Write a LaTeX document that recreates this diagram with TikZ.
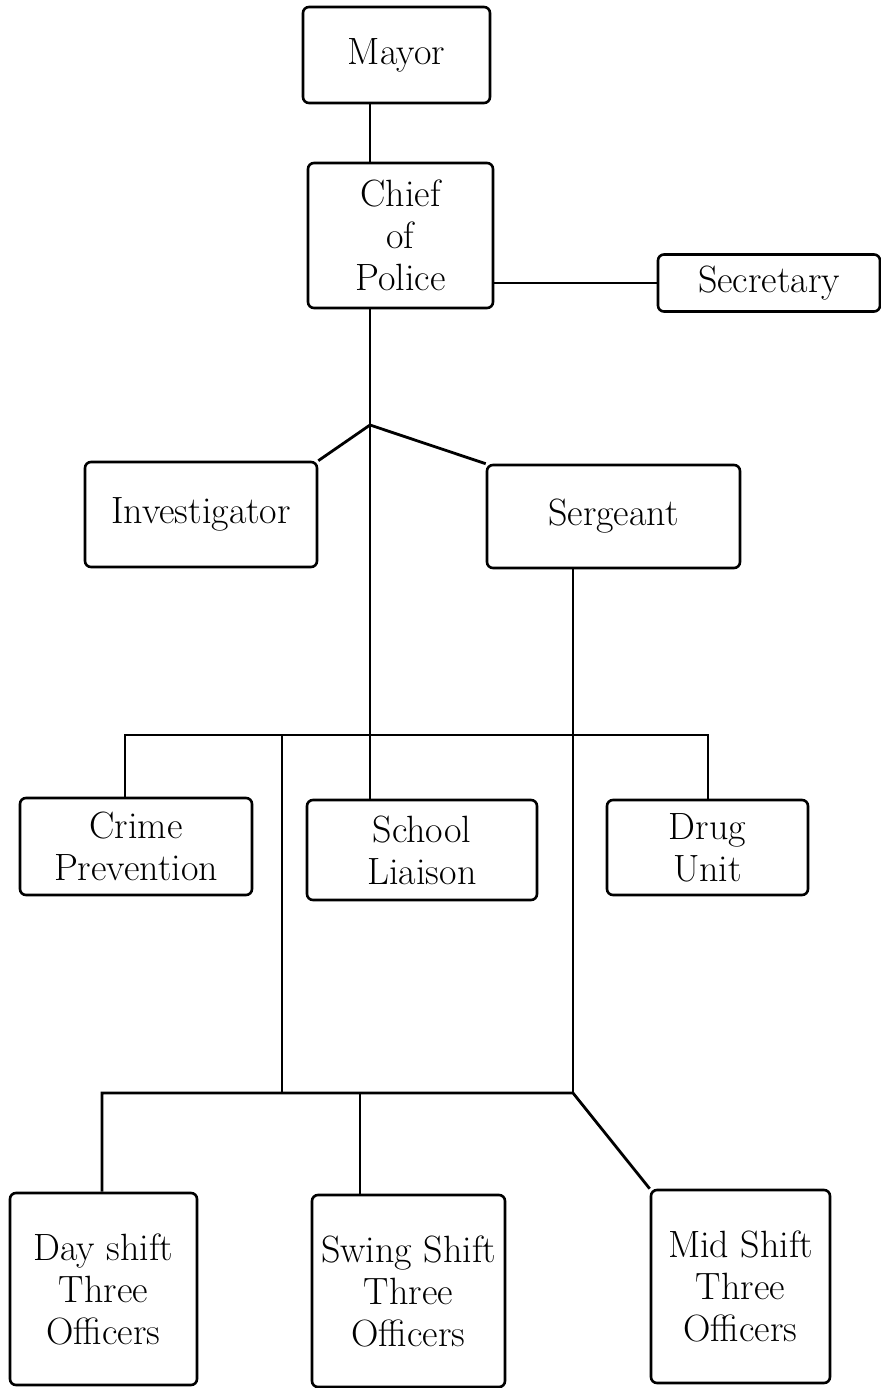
\documentclass[tikz,border=0pt]{standalone}
\usepackage{tikz}
\tikzset{
  post/.style ={draw, rounded corners=3pt, inner sep=0pt, align=center,
                line width=1.3pt, font=\fontsize{19}{21}\selectfont},
  tie/.style  ={line width=1.4pt},
}

\begin{document}
\begin{tikzpicture}[x=0.5pt, y=-0.5pt]
\useasboundingbox (0,0) rectangle (881,1388);
% top of the chart
\node[post, minimum width=93.5pt, minimum height=48pt] (mayor) at (396.5,55) {Mayor};
\node[post, minimum width=92.5pt, minimum height=72.5pt] (chief) at (400.5,235.5) {Chief\\of\\Police};
\node[post, minimum width=111pt, minimum height=28.5pt] (sec) at (769,283) {Secretary};
\node[post, minimum width=116pt, minimum height=52.5pt] (inv) at (201,514.5) {Investigator};
\node[post, minimum width=126.5pt, minimum height=51.5pt] (serg) at (613.5,516.5) {Sergeant};
% units
\node[post, minimum width=116pt, minimum height=48.5pt] (crime) at (136,846.5) {Crime\\Prevention};
\node[post, minimum width=115pt, minimum height=50pt] (school) at (422,850) {School\\Liaison};
\node[post, minimum width=100.5pt, minimum height=47.5pt] (drug) at (707.5,847.5) {Drug\\Unit};
% shifts
\node[post, minimum width=93.5pt, minimum height=96pt] (day) at (103.5,1289) {Day shift\\Three\\Officers};
\node[post, minimum width=96.5pt, minimum height=96pt] (swing) at (408.5,1291) {Swing Shift\\Three\\Officers};
\node[post, minimum width=89.5pt, minimum height=96.5pt] (mid) at (740.5,1286.5) {Mid Shift\\Three\\Officers};
% joints
\coordinate (split) at (370,425);
\coordinate (barC) at (370,735);
\coordinate (barL) at (125,735);
\coordinate (barR) at (708,735);
\coordinate (shiftT) at (282,735);
\coordinate (shiftB) at (282,1093);
\coordinate (botL) at (102,1093);
\coordinate (botR) at (573,1093);
\coordinate (swingx) at (360,1093);
\draw[tie] (mayor.south -| split) -- (chief.north -| split);
\draw[tie] (chief.east |- sec.west) -- (sec.west);
\draw[tie] (chief.south -| split) -- (split) -- (barC) -- (school.north -| barC);
\draw[tie] (split) -- (inv.north east);
\draw[tie] (split) -- (serg.north west);
\draw[tie] (crime.north -| barL) -- (barL) -- (barR) -- (drug.north -| barR);
\draw[tie] (shiftT) -- (shiftB);
\draw[tie] (serg.south -| botR) -- (botR);
\draw[tie] (day.north -| botL) -- (botL) -- (botR) -- (mid.north west);
\draw[tie] (swingx) -- (swing.north -| swingx);
\end{tikzpicture}
\end{document}
